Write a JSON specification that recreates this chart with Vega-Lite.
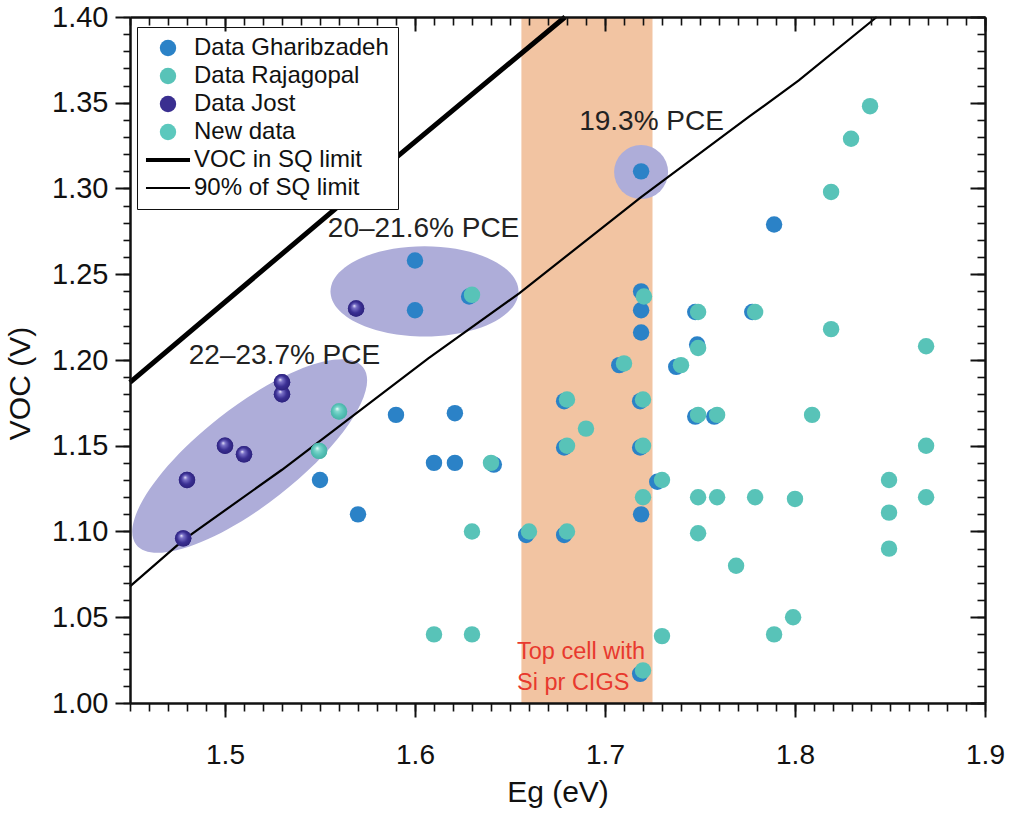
{
  "$schema": "https://vega.github.io/schema/vega-lite/v6.json",
  "width": 855,
  "height": 686,
  "autosize": "none",
  "padding": {"left": 130, "top": 17, "right": 25, "bottom": 110},
  "background": "white",
  "config": {"font": "Liberation Sans", "view": {"stroke": null}, "axis": {"grid": false, "labelColor": "#111", "titleColor": "#111", "tickColor": "#111", "domainColor": "#111", "labelFlush": false, "labelOverlap": false, "labelBound": false}},
  "resolve": {"axis": {"x": "independent", "y": "independent"}},
  "datasets": {
    "band": [{"lo": 1.656, "hi": 1.725}],
    "ellipses": [
      {"eg": 1.513, "voc": 1.144, "group": "22–23.7% PCE"},
      {"eg": 1.605, "voc": 1.240, "group": "20–21.6% PCE"},
      {"eg": 1.719, "voc": 1.3096, "group": "19.3% PCE"}
    ],
    "sq": [
      {"eg": 1.45, "voc": 1.187},
      {"eg": 1.59, "voc": 1.318},
      {"eg": 1.679, "voc": 1.40}
    ],
    "sq90": [
      {"eg": 1.45, "voc": 1.068},
      {"eg": 1.478, "voc": 1.095},
      {"eg": 1.53, "voc": 1.136},
      {"eg": 1.607, "voc": 1.201},
      {"eg": 1.655, "voc": 1.239},
      {"eg": 1.719, "voc": 1.295},
      {"eg": 1.776, "voc": 1.342},
      {"eg": 1.802, "voc": 1.363},
      {"eg": 1.843, "voc": 1.40}
    ],
    "points": [
      {"eg": 1.55, "voc": 1.130, "series": "Data Gharibzadeh"},
      {"eg": 1.57, "voc": 1.110, "series": "Data Gharibzadeh"},
      {"eg": 1.59, "voc": 1.168, "series": "Data Gharibzadeh"},
      {"eg": 1.60, "voc": 1.258, "series": "Data Gharibzadeh"},
      {"eg": 1.60, "voc": 1.229, "series": "Data Gharibzadeh"},
      {"eg": 1.61, "voc": 1.140, "series": "Data Gharibzadeh"},
      {"eg": 1.621, "voc": 1.140, "series": "Data Gharibzadeh"},
      {"eg": 1.621, "voc": 1.169, "series": "Data Gharibzadeh"},
      {"eg": 1.6415, "voc": 1.139, "series": "Data Gharibzadeh"},
      {"eg": 1.6285, "voc": 1.237, "series": "Data Gharibzadeh"},
      {"eg": 1.719, "voc": 1.310, "series": "Data Gharibzadeh"},
      {"eg": 1.719, "voc": 1.240, "series": "Data Gharibzadeh"},
      {"eg": 1.719, "voc": 1.229, "series": "Data Gharibzadeh"},
      {"eg": 1.719, "voc": 1.216, "series": "Data Gharibzadeh"},
      {"eg": 1.7185, "voc": 1.176, "series": "Data Gharibzadeh"},
      {"eg": 1.7185, "voc": 1.149, "series": "Data Gharibzadeh"},
      {"eg": 1.719, "voc": 1.110, "series": "Data Gharibzadeh"},
      {"eg": 1.6785, "voc": 1.176, "series": "Data Gharibzadeh"},
      {"eg": 1.6785, "voc": 1.149, "series": "Data Gharibzadeh"},
      {"eg": 1.6785, "voc": 1.098, "series": "Data Gharibzadeh"},
      {"eg": 1.6585, "voc": 1.098, "series": "Data Gharibzadeh"},
      {"eg": 1.7075, "voc": 1.197, "series": "Data Gharibzadeh"},
      {"eg": 1.7375, "voc": 1.196, "series": "Data Gharibzadeh"},
      {"eg": 1.7275, "voc": 1.129, "series": "Data Gharibzadeh"},
      {"eg": 1.7475, "voc": 1.228, "series": "Data Gharibzadeh"},
      {"eg": 1.7485, "voc": 1.209, "series": "Data Gharibzadeh"},
      {"eg": 1.7475, "voc": 1.167, "series": "Data Gharibzadeh"},
      {"eg": 1.7575, "voc": 1.167, "series": "Data Gharibzadeh"},
      {"eg": 1.7775, "voc": 1.228, "series": "Data Gharibzadeh"},
      {"eg": 1.789, "voc": 1.279, "series": "Data Gharibzadeh"},
      {"eg": 1.7185, "voc": 1.017, "series": "Data Gharibzadeh"},
      {"eg": 1.63, "voc": 1.238, "series": "Data Rajagopal"},
      {"eg": 1.64, "voc": 1.140, "series": "Data Rajagopal"},
      {"eg": 1.63, "voc": 1.100, "series": "Data Rajagopal"},
      {"eg": 1.61, "voc": 1.040, "series": "Data Rajagopal"},
      {"eg": 1.63, "voc": 1.040, "series": "Data Rajagopal"},
      {"eg": 1.66, "voc": 1.100, "series": "Data Rajagopal"},
      {"eg": 1.68, "voc": 1.100, "series": "Data Rajagopal"},
      {"eg": 1.68, "voc": 1.150, "series": "Data Rajagopal"},
      {"eg": 1.68, "voc": 1.177, "series": "Data Rajagopal"},
      {"eg": 1.69, "voc": 1.160, "series": "Data Rajagopal"},
      {"eg": 1.71, "voc": 1.198, "series": "Data Rajagopal"},
      {"eg": 1.7205, "voc": 1.237, "series": "Data Rajagopal"},
      {"eg": 1.72, "voc": 1.177, "series": "Data Rajagopal"},
      {"eg": 1.72, "voc": 1.150, "series": "Data Rajagopal"},
      {"eg": 1.72, "voc": 1.120, "series": "Data Rajagopal"},
      {"eg": 1.72, "voc": 1.019, "series": "Data Rajagopal"},
      {"eg": 1.73, "voc": 1.130, "series": "Data Rajagopal"},
      {"eg": 1.73, "voc": 1.039, "series": "Data Rajagopal"},
      {"eg": 1.74, "voc": 1.197, "series": "Data Rajagopal"},
      {"eg": 1.749, "voc": 1.228, "series": "Data Rajagopal"},
      {"eg": 1.749, "voc": 1.207, "series": "Data Rajagopal"},
      {"eg": 1.749, "voc": 1.168, "series": "Data Rajagopal"},
      {"eg": 1.749, "voc": 1.120, "series": "Data Rajagopal"},
      {"eg": 1.749, "voc": 1.099, "series": "Data Rajagopal"},
      {"eg": 1.759, "voc": 1.168, "series": "Data Rajagopal"},
      {"eg": 1.759, "voc": 1.120, "series": "Data Rajagopal"},
      {"eg": 1.769, "voc": 1.080, "series": "Data Rajagopal"},
      {"eg": 1.779, "voc": 1.228, "series": "Data Rajagopal"},
      {"eg": 1.779, "voc": 1.120, "series": "Data Rajagopal"},
      {"eg": 1.789, "voc": 1.040, "series": "Data Rajagopal"},
      {"eg": 1.80, "voc": 1.119, "series": "Data Rajagopal"},
      {"eg": 1.799, "voc": 1.050, "series": "Data Rajagopal"},
      {"eg": 1.809, "voc": 1.168, "series": "Data Rajagopal"},
      {"eg": 1.819, "voc": 1.298, "series": "Data Rajagopal"},
      {"eg": 1.819, "voc": 1.218, "series": "Data Rajagopal"},
      {"eg": 1.8295, "voc": 1.329, "series": "Data Rajagopal"},
      {"eg": 1.8395, "voc": 1.348, "series": "Data Rajagopal"},
      {"eg": 1.8495, "voc": 1.130, "series": "Data Rajagopal"},
      {"eg": 1.8495, "voc": 1.111, "series": "Data Rajagopal"},
      {"eg": 1.8495, "voc": 1.090, "series": "Data Rajagopal"},
      {"eg": 1.869, "voc": 1.208, "series": "Data Rajagopal"},
      {"eg": 1.869, "voc": 1.150, "series": "Data Rajagopal"},
      {"eg": 1.869, "voc": 1.120, "series": "Data Rajagopal"},
      {"eg": 1.478, "voc": 1.096, "series": "Data Jost"},
      {"eg": 1.48, "voc": 1.130, "series": "Data Jost"},
      {"eg": 1.50, "voc": 1.150, "series": "Data Jost"},
      {"eg": 1.51, "voc": 1.145, "series": "Data Jost"},
      {"eg": 1.53, "voc": 1.180, "series": "Data Jost"},
      {"eg": 1.53, "voc": 1.187, "series": "Data Jost"},
      {"eg": 1.569, "voc": 1.230, "series": "Data Jost"},
      {"eg": 1.56, "voc": 1.170, "series": "New data"},
      {"eg": 1.5495, "voc": 1.147, "series": "New data"}
    ],
    "labels": [
      {"eg": 1.5313, "voc": 1.2023, "label": "22–23.7% PCE"},
      {"eg": 1.6045, "voc": 1.2764, "label": "20–21.6% PCE"},
      {"eg": 1.7245, "voc": 1.3388, "label": "19.3% PCE"}
    ],
    "redlabels": [
      {"eg": 1.6537, "voc": 1.0297, "label": "Top cell with"},
      {"eg": 1.6537, "voc": 1.0117, "label": "Si pr CIGS"}
    ]
  },
  "layer": [
    {
      "data": {"name": "band"},
      "mark": {"type": "rect", "color": "#f2c4a2"},
      "encoding": {
        "x": {"field": "lo", "type": "quantitative", "scale": {"domain": [1.45, 1.9], "nice": false, "zero": false}, "axis": null},
        "x2": {"field": "hi"}
      }
    },
    {
      "data": {"name": "ellipses"},
      "transform": [{"filter": "datum.group === '22–23.7% PCE'"}],
      "mark": {"type": "point", "filled": true, "opacity": 1, "color": "#aeadd9", "strokeWidth": 0, "size": 82944, "angle": 322,
        "shape": "M 1 0 C 1 0.1878 0.5523 0.34 0 0.34 C -0.5523 0.34 -1 0.1878 -1 0 C -1 -0.1878 -0.5523 -0.34 0 -0.34 C 0.5523 -0.34 1 -0.1878 1 0 Z"},
      "encoding": {
        "x": {"field": "eg", "type": "quantitative", "scale": {"domain": [1.45, 1.9], "nice": false, "zero": false},
          "axis": {"orient": "bottom", "values": [1.5, 1.6, 1.7, 1.8, 1.9], "format": ".1f", "tickSize": 14, "tickWidth": 2, "labelFontSize": 28, "labelPadding": 24, "domain": true, "domainWidth": 2.5, "zindex": 1, "title": "Eg (eV)", "titleFontSize": 30, "titleFontWeight": "normal", "titlePadding": 8}},
        "y": {"field": "voc", "type": "quantitative", "scale": {"domain": [1.0, 1.4], "nice": false, "zero": false},
          "axis": {"orient": "left", "values": [1.0, 1.05, 1.1, 1.15, 1.2, 1.25, 1.3, 1.35, 1.4], "format": ".2f", "tickSize": 15, "tickWidth": 2, "labelFontSize": 29, "labelPadding": 7, "domain": true, "domainWidth": 2.5, "zindex": 1, "title": "VOC (V)", "titleFontSize": 30, "titleFontWeight": "normal", "titlePadding": 16, "titleY": 366}}
      }
    },
    {
      "data": {"name": "ellipses"},
      "transform": [{"filter": "datum.group === '20–21.6% PCE'"}],
      "mark": {"type": "point", "filled": true, "opacity": 1, "color": "#aeadd9", "strokeWidth": 0, "size": 35344,
        "shape": "M 1 0 C 1 0.2645 0.5523 0.479 0 0.479 C -0.5523 0.479 -1 0.2645 -1 0 C -1 -0.2645 -0.5523 -0.479 0 -0.479 C 0.5523 -0.479 1 -0.2645 1 0 Z"},
      "encoding": {
        "x": {"field": "eg", "type": "quantitative", "scale": {"domain": [1.45, 1.9], "nice": false, "zero": false},
          "axis": {"orient": "bottom", "values": [1.45,1.46,1.47,1.48,1.49,1.5,1.51,1.52,1.53,1.54,1.55,1.56,1.57,1.58,1.59,1.6,1.61,1.62,1.63,1.64,1.65,1.66,1.67,1.68,1.69,1.7,1.71,1.72,1.73,1.74,1.75,1.76,1.77,1.78,1.79,1.8,1.81,1.82,1.83,1.84,1.85,1.86,1.87,1.88,1.89,1.9], "tickSize": 8, "tickWidth": 1.6, "labels": false, "domain": false, "zindex": 1, "title": null}},
        "y": {"field": "voc", "type": "quantitative", "scale": {"domain": [1.0, 1.4], "nice": false, "zero": false},
          "axis": {"orient": "left", "values": [1.0,1.01,1.02,1.03,1.04,1.05,1.06,1.07,1.08,1.09,1.1,1.11,1.12,1.13,1.14,1.15,1.16,1.17,1.18,1.19,1.2,1.21,1.22,1.23,1.24,1.25,1.26,1.27,1.28,1.29,1.3,1.31,1.32,1.33,1.34,1.35,1.36,1.37,1.38,1.39,1.4], "tickSize": 7, "tickWidth": 1.6, "labels": false, "domain": false, "zindex": 1, "title": null}}
      }
    },
    {
      "data": {"name": "ellipses"},
      "transform": [{"filter": "datum.group === '19.3% PCE'"}],
      "mark": {"type": "point", "filled": true, "opacity": 1, "color": "#aeadd9", "strokeWidth": 0, "size": 2916, "shape": "circle"},
      "encoding": {
        "x": {"field": "eg", "type": "quantitative", "scale": {"domain": [1.45, 1.9], "nice": false, "zero": false},
          "axis": {"orient": "top", "values": [1.5, 1.6, 1.7, 1.8, 1.9], "tickSize": -14, "tickWidth": 2, "labels": false, "domain": true, "domainWidth": 2.5, "zindex": 1, "title": null}},
        "y": {"field": "voc", "type": "quantitative", "scale": {"domain": [1.0, 1.4], "nice": false, "zero": false},
          "axis": {"orient": "right", "values": [1.0, 1.05, 1.1, 1.15, 1.2, 1.25, 1.3, 1.35, 1.4], "tickSize": -15, "tickWidth": 2, "labels": false, "domain": true, "domainWidth": 2.5, "zindex": 1, "title": null}}
      }
    },
    {
      "data": {"name": "sq"},
      "mark": {"type": "line", "color": "#000", "strokeWidth": 5},
      "encoding": {
        "x": {"field": "eg", "type": "quantitative", "scale": {"domain": [1.45, 1.9], "nice": false, "zero": false},
          "axis": {"orient": "top", "values": [1.45,1.46,1.47,1.48,1.49,1.5,1.51,1.52,1.53,1.54,1.55,1.56,1.57,1.58,1.59,1.6,1.61,1.62,1.63,1.64,1.65,1.66,1.67,1.68,1.69,1.7,1.71,1.72,1.73,1.74,1.75,1.76,1.77,1.78,1.79,1.8,1.81,1.82,1.83,1.84,1.85,1.86,1.87,1.88,1.89,1.9], "tickSize": -8, "tickWidth": 1.6, "labels": false, "domain": false, "zindex": 1, "title": null}},
        "y": {"field": "voc", "type": "quantitative", "scale": {"domain": [1.0, 1.4], "nice": false, "zero": false},
          "axis": {"orient": "right", "values": [1.0,1.01,1.02,1.03,1.04,1.05,1.06,1.07,1.08,1.09,1.1,1.11,1.12,1.13,1.14,1.15,1.16,1.17,1.18,1.19,1.2,1.21,1.22,1.23,1.24,1.25,1.26,1.27,1.28,1.29,1.3,1.31,1.32,1.33,1.34,1.35,1.36,1.37,1.38,1.39,1.4], "tickSize": -8, "tickWidth": 1.6, "labels": false, "domain": false, "zindex": 1, "title": null}}
      }
    },
    {
      "data": {"name": "sq90"},
      "mark": {"type": "line", "color": "#000", "strokeWidth": 2.2},
      "encoding": {
        "x": {"field": "eg", "type": "quantitative", "scale": {"domain": [1.45, 1.9], "nice": false, "zero": false}, "axis": null},
        "y": {"field": "voc", "type": "quantitative", "scale": {"domain": [1.0, 1.4], "nice": false, "zero": false}, "axis": null}
      }
    },
    {
      "data": {"name": "points"},
      "mark": {"type": "point", "filled": true, "opacity": 1, "size": 270, "strokeWidth": 0},
      "encoding": {
        "x": {"field": "eg", "type": "quantitative", "scale": {"domain": [1.45, 1.9], "nice": false, "zero": false}, "axis": null},
        "y": {"field": "voc", "type": "quantitative", "scale": {"domain": [1.0, 1.4], "nice": false, "zero": false}, "axis": null},
        "color": {
          "field": "series", "type": "nominal",
          "scale": {"domain": ["Data Gharibzadeh", "Data Rajagopal", "Data Jost", "New data", "VOC in SQ limit", "90% of SQ limit"],
                    "range": ["#2b82c7", "#58c3b8", "#3a2f90", "#5cc8bd", "#000000", "#000000"]},
          "legend": {
            "orient": "none", "legendX": 7, "legendY": 10, "title": null,
            "labelFontSize": 24, "labelColor": "#111", "labelLimit": 400,
            "symbolSize": 270, "symbolOffset": 10, "labelOffset": 14, "padding": 9, "rowPadding": 4,
            "strokeColor": "#111", "fillColor": "white", "symbolStrokeWidth": 0
          }
        },
        "shape": {
          "field": "series", "type": "nominal",
          "scale": {"domain": ["Data Gharibzadeh", "Data Rajagopal", "Data Jost", "New data", "VOC in SQ limit", "90% of SQ limit"],
                    "range": ["circle", "circle", "circle", "circle",
                      "M -2.68 -0.25 L 2.68 -0.25 L 2.68 0.25 L -2.68 0.25 Z",
                      "M -2.68 -0.12 L 2.68 -0.12 L 2.68 0.12 L -2.68 0.12 Z"]},
          "legend": {"orient": "none", "title": null}
        }
      }
    },
    {
      "data": {"name": "points"},
      "transform": [{"filter": "datum.series === 'Data Jost'"}],
      "mark": {"type": "point", "filled": true, "opacity": 1, "size": 270, "strokeWidth": 0,
        "color": {"gradient": "radial", "x1": 0.38, "y1": 0.33, "r1": 0, "x2": 0.5, "y2": 0.5, "r2": 0.55,
          "stops": [{"offset": 0, "color": "#f2f0ff"}, {"offset": 0.22, "color": "#7b72c8"}, {"offset": 0.6, "color": "#3a2f93"}, {"offset": 1, "color": "#2a2078"}]}},
      "encoding": {
        "x": {"field": "eg", "type": "quantitative", "scale": {"domain": [1.45, 1.9], "nice": false, "zero": false}, "axis": null},
        "y": {"field": "voc", "type": "quantitative", "scale": {"domain": [1.0, 1.4], "nice": false, "zero": false}, "axis": null}
      }
    },
    {
      "data": {"name": "points"},
      "transform": [{"filter": "datum.series === 'New data'"}],
      "mark": {"type": "point", "filled": true, "opacity": 1, "size": 270, "strokeWidth": 0,
        "color": {"gradient": "radial", "x1": 0.38, "y1": 0.33, "r1": 0, "x2": 0.5, "y2": 0.5, "r2": 0.55,
          "stops": [{"offset": 0, "color": "#f4fffd"}, {"offset": 0.25, "color": "#82d8ce"}, {"offset": 0.6, "color": "#58c3b8"}, {"offset": 1, "color": "#44ada2"}]}},
      "encoding": {
        "x": {"field": "eg", "type": "quantitative", "scale": {"domain": [1.45, 1.9], "nice": false, "zero": false}, "axis": null},
        "y": {"field": "voc", "type": "quantitative", "scale": {"domain": [1.0, 1.4], "nice": false, "zero": false}, "axis": null}
      }
    },
    {
      "data": {"name": "labels"},
      "mark": {"type": "text", "fontSize": 28, "color": "#222", "align": "center", "baseline": "middle"},
      "encoding": {
        "x": {"field": "eg", "type": "quantitative", "scale": {"domain": [1.45, 1.9], "nice": false, "zero": false}, "axis": null},
        "y": {"field": "voc", "type": "quantitative", "scale": {"domain": [1.0, 1.4], "nice": false, "zero": false}, "axis": null},
        "text": {"field": "label"}
      }
    },
    {
      "data": {"name": "redlabels"},
      "mark": {"type": "text", "fontSize": 23.5, "color": "#e8392e", "align": "left", "baseline": "middle"},
      "encoding": {
        "x": {"field": "eg", "type": "quantitative", "scale": {"domain": [1.45, 1.9], "nice": false, "zero": false}, "axis": null},
        "y": {"field": "voc", "type": "quantitative", "scale": {"domain": [1.0, 1.4], "nice": false, "zero": false}, "axis": null},
        "text": {"field": "label"}
      }
    }
  ]
}
